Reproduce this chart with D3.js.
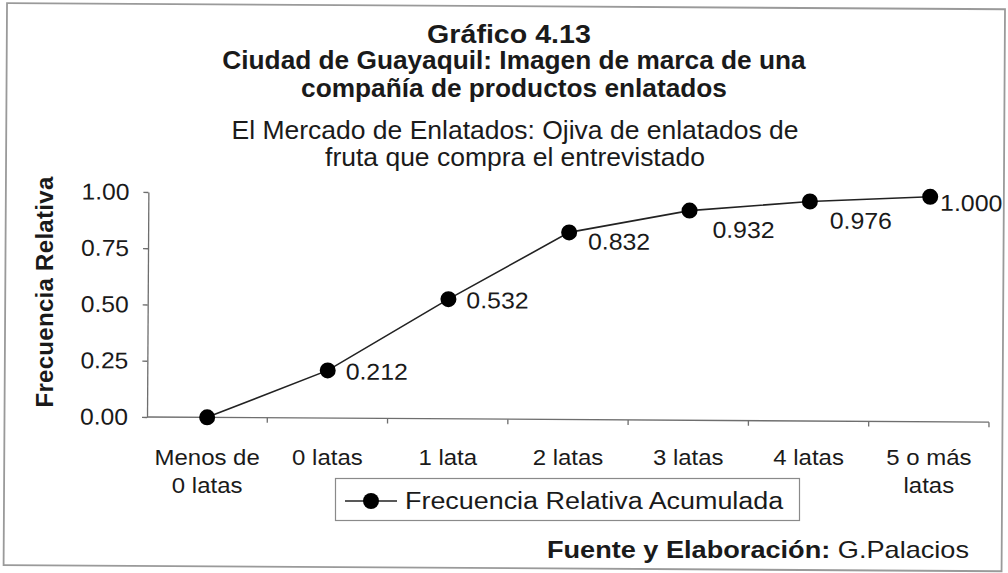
<!DOCTYPE html>
<html>
<head>
<meta charset="utf-8">
<script src="https://cdn.jsdelivr.net/npm/d3@7"></script>
<style>
  html, body { margin: 0; padding: 0; background: #fff; }
  svg { display: block; font-family: "Liberation Sans", Arial, sans-serif; }
</style>
</head>
<body>
<svg id="chart" width="1008" height="573"></svg>
<script>
// ---- data ----
const categories = ["Menos de\n0 latas", "0 latas", "1 lata", "2 latas", "3 latas", "4 latas", "5 o más\nlatas"];
const values = [0, 0.212, 0.532, 0.832, 0.932, 0.976, 1.000];
const valueLabels = ["", "0.212", "0.532", "0.832", "0.932", "0.976", "1.000"];
const yTicks = [0, 0.25, 0.5, 0.75, 1.0];
const seriesName = "Frecuencia Relativa Acumulada";
const titleLines = ["Gráfico 4.13"];
const subtitleLines = ["Ciudad de Guayaquil: Imagen de marca de una", "compañía de productos enlatados"];
const descLines = ["El Mercado de Enlatados: Ojiva de enlatados de", "fruta que compra el entrevistado"];
const yAxisTitle = "Frecuencia Relativa";
const sourceBold = "Fuente y Elaboración:";
const sourceText = " G.Palacios";

// ---- layout ----
const svg = d3.select("#chart");
const W = 1008, H = 573;
const plot = { left: 147, right: 989, top: 192, bottom: 417 };
const textColor = "#1a1a1a";
const axisColor = "#6e6e6e";

// horizontal stretch of text about its anchor point (the scanned original is wider than Arial)
function stretch(sel, sx) {
  sel.attr("transform", function () {
    const tx = +this.getAttribute("x") || 0, ty = +this.getAttribute("y") || 0;
    return `translate(${tx},${ty}) scale(${sx},1) translate(${-tx},${-ty})`;
  });
}

// the scan is slightly tilted: rotate the framed content a little around the plot origin
const root = svg.append("g").attr("transform", `rotate(0.35,${plot.left},${plot.bottom})`);

root.append("rect").attr("x", 4.5).attr("y", 4).attr("width", 998).attr("height", 562)
  .attr("fill", "#fff").attr("stroke", "#9a9a9a").attr("stroke-width", 1.8);

const x = d3.scaleBand().domain(categories).range([plot.left, plot.right]).paddingInner(0).paddingOuter(0);
const y = d3.scaleLinear().domain([0, 1]).range([plot.bottom, plot.top]);

// titles
const cxTitle = 512;
svg.append("text").attr("x", cxTitle - 3).attr("y", 43).attr("text-anchor", "middle")
  .attr("font-size", 26).attr("font-weight", "bold").attr("fill", textColor).text(titleLines[0])
  .call(stretch, 1.1);
subtitleLines.forEach((t, i) => {
  svg.append("text").attr("x", cxTitle + 2).attr("y", 69 + i * 28).attr("text-anchor", "middle")
    .attr("font-size", 25).attr("font-weight", "bold").attr("fill", textColor).text(t)
    .call(stretch, 1.05);
});
descLines.forEach((t, i) => {
  svg.append("text").attr("x", cxTitle + 3).attr("y", 139 + i * 27).attr("text-anchor", "middle")
    .attr("font-size", 25).attr("fill", textColor).text(t)
    .call(stretch, 1.06);
});

// y axis
const yAxis = d3.axisLeft(y).tickValues(yTicks).tickFormat(d3.format(".2f")).tickSize(5).tickSizeOuter(0);
const gy = root.append("g").attr("transform", `translate(${plot.left},0)`).call(yAxis);
gy.select(".domain").attr("stroke", axisColor).attr("stroke-width", 1.3);
gy.selectAll(".tick line").attr("stroke", axisColor).attr("stroke-width", 1.3);
gy.selectAll(".tick text").attr("font-size", 23).attr("fill", textColor).attr("x", -19)
  .attr("font-family", "Liberation Sans, Arial, sans-serif").call(stretch, 1.07);

// x axis: line plus boundary ticks
const gx = root.append("g").attr("transform", `translate(0,${plot.bottom})`);
gx.append("line").attr("x1", plot.left).attr("x2", plot.right).attr("stroke", axisColor).attr("stroke-width", 1.3);
const boundaries = categories.map(c => x(c)).slice(1).concat([x(categories[categories.length - 1]) + x.bandwidth()]);
gx.selectAll("line.bt").data(boundaries).join("line").attr("class", "bt")
  .attr("x1", d => d).attr("x2", d => d).attr("y1", 0).attr("y2", 5)
  .attr("stroke", axisColor).attr("stroke-width", 1.3);

// x tick labels (kept level, as in the scan)
const xl = svg.selectAll("text.xl").data(categories).join("text").attr("class", "xl")
  .attr("x", d => x(d) + x.bandwidth() / 2).attr("y", 465)
  .attr("text-anchor", "middle").attr("font-size", 22).attr("fill", textColor);
xl.each(function (d) {
  const t = d3.select(this);
  d.split("\n").forEach((ln, i) => {
    t.append("tspan").attr("x", x(d) + x.bandwidth() / 2).attr("dy", i === 0 ? 0 : 28).text(ln);
  });
});
xl.call(stretch, 1.09);

// y axis title
svg.append("text").attr("transform", `translate(53,292) rotate(-90)`)
  .attr("text-anchor", "middle").attr("font-size", 24).attr("font-weight", "bold").attr("fill", textColor)
  .attr("letter-spacing", 0.3).text(yAxisTitle);

// line + markers
const cx = (d, i) => x(categories[i]) + x.bandwidth() / 2;
const line = d3.line().x((d, i) => cx(d, i)).y(d => y(d));
root.append("path").datum(values).attr("d", line).attr("fill", "none")
  .attr("stroke", "#222").attr("stroke-width", 1.6);
root.selectAll("circle.pt").data(values).join("circle").attr("class", "pt")
  .attr("cx", (d, i) => cx(d, i)).attr("cy", d => y(d)).attr("r", 8).attr("fill", "#000");

// value labels (Excel-like placement next to each point)
const labelOffsets = [[0, 0], [18, 9], [18, 9], [19, 17], [23, 27], [20, 27], [10, 14]];
root.selectAll("text.vl").data(values).join("text").attr("class", "vl")
  .attr("x", (d, i) => cx(d, i) + labelOffsets[i][0])
  .attr("y", (d, i) => y(d) + labelOffsets[i][1])
  .attr("font-size", 23).attr("fill", textColor)
  .text((d, i) => valueLabels[i])
  .call(stretch, 1.08);

// legend
const lg = svg.append("g");
lg.append("rect").attr("x", 335.5).attr("y", 478.5).attr("width", 464).attr("height", 42)
  .attr("fill", "#fff").attr("stroke", "#8a8a8a").attr("stroke-width", 1.2);
lg.append("line").attr("x1", 345).attr("x2", 397).attr("y1", 501).attr("y2", 501)
  .attr("stroke", "#222").attr("stroke-width", 1.6);
lg.append("circle").attr("cx", 371).attr("cy", 501).attr("r", 8).attr("fill", "#000");
lg.append("text").attr("x", 405).attr("y", 509).attr("font-size", 23).attr("fill", textColor)
  .text(seriesName).call(stretch, 1.17);

// source
const src = svg.append("text").attr("x", 969).attr("y", 558).attr("text-anchor", "end")
  .attr("font-size", 23).attr("fill", textColor);
src.append("tspan").attr("font-weight", "bold").text(sourceBold);
src.append("tspan").text(sourceText);
src.call(stretch, 1.18);
</script>
</body>
</html>
